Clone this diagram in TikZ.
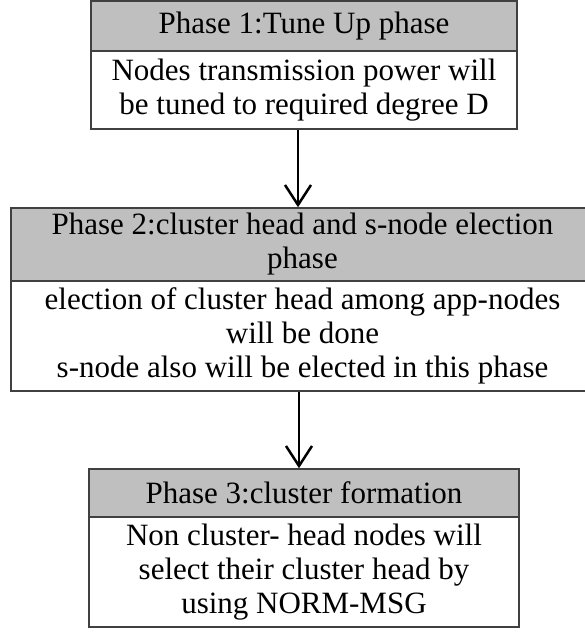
\documentclass[tikz,border=0pt]{standalone}
\usepackage{fontspec}
\setmainfont{Liberation Serif}
\usetikzlibrary{arrows.meta}
\definecolor{hdrgray}{RGB}{191,191,191}
\definecolor{edgegray}{RGB}{64,64,64}
\tikzset{
  sect/.style={draw=edgegray, line width=1.5pt, inner sep=0pt, align=center,
    font=\fontsize{31}{34}\selectfont, text=black},
  hdr/.style={sect, fill=hdrgray},
  bdy/.style={sect, fill=white},
  flow/.style={line width=2.5pt, black, -{Straight Barb[length=20pt,width=26pt]}}
}
\begin{document}
\begin{tikzpicture}[x=1pt,y=-1pt]
\useasboundingbox (0,0) rectangle (584,632);
% Phase 1
\node[hdr, minimum width=426pt, minimum height=50pt] (h1) at (304,26) {Phase 1:Tune Up phase};
\node[bdy, minimum width=426pt, minimum height=78pt] (b1) at (304,90) {Nodes transmission power will\\be tuned to required degree D};
% Phase 2
\node[hdr, minimum width=583pt, minimum height=73pt] (h2) at (302.5,244.5) {Phase 2:cluster head and s-node election\\phase};
\node[bdy, minimum width=583pt, minimum height=110pt] (b2) at (302.5,336) {election of cluster head among app-nodes\\will be done\\s-node also will be elected in this phase};
% Phase 3
\node[hdr, minimum width=430pt, minimum height=48pt] (h3) at (304,493) {Phase 3:cluster formation};
\node[bdy, minimum width=430pt, minimum height=110pt] (b3) at (304,572) {Non cluster- head nodes will\\select their cluster head by\\using NORM-MSG};
% connectors
\draw[flow] ([xshift=-6pt]b1.south) -- ([xshift=-6pt]b1.south |- h2.north);
\draw[flow] ([xshift=-3.5pt]b2.south) -- ([xshift=-3.5pt]b2.south |- h3.north);
\end{tikzpicture}
\end{document}
